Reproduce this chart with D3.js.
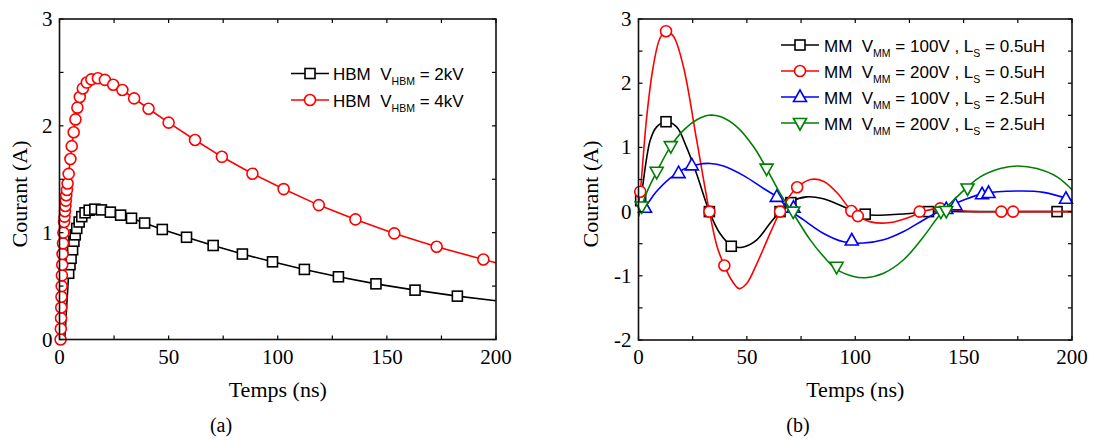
<!DOCTYPE html>
<html><head><meta charset="utf-8">
<script src="https://cdn.jsdelivr.net/npm/d3@7"></script>
<style>
html,body{margin:0;padding:0;background:#fff;}
svg{display:block;}
text{white-space:pre;}
</style></head>
<body>
<svg id="chart" width="1096" height="441"></svg>
<script>
// ---------- DATA : panel (a) ----------
const xTicksA = [0, 50, 100, 150, 200];
const yTicksA = [0, 1, 2, 3];
const xTicksB = [0, 50, 100, 150, 200];
const yTicksB = [-2, -1, 0, 1, 2, 3];

const hbm2kV_markers = [[4.2,0.62],[4.8,0.70],[5.3,0.76],[6.0,0.84],[6.6,0.92],[7.2,0.98],[7.9,1.04],[9.0,1.10],[10.2,1.15],[11.7,1.186],[13.6,1.21],[16.2,1.22],[19.2,1.213],[23.3,1.192],[28.0,1.164],[33.0,1.135],[39.0,1.09],[47.1,1.03],[58.2,0.957],[70.4,0.88],[83.8,0.80],[97.6,0.727],[112.2,0.656],[127.8,0.587],[145.0,0.521],[162.9,0.462],[182.3,0.406]];
const hbm2kV_start = [2.4, 0];
const hbm2kV_end = [200, 0.362];

const hbm4kV_markers = [[0.5,0.0],[0.6,0.1],[0.7,0.2],[0.8,0.3],[0.9,0.4],[1.0,0.5],[1.1,0.6],[1.25,0.7],[1.4,0.8],[1.6,0.9],[1.8,1.0],[2.1,1.1],[2.3,1.15],[2.5,1.2],[2.7,1.25],[2.9,1.3],[3.1,1.35],[3.4,1.4],[3.7,1.46],[4.2,1.55],[5.0,1.69],[5.6,1.81],[6.5,1.94],[7.3,2.06],[8.2,2.17],[9.3,2.27],[10.7,2.35],[12.5,2.405],[14.6,2.435],[17.6,2.445],[20.8,2.43],[24.6,2.385],[28.8,2.335],[34.2,2.257],[40.8,2.16],[50.0,2.03],[62.1,1.867],[74.4,1.71],[88.4,1.552],[102.7,1.408],[118.8,1.258],[135.6,1.124],[153.4,0.993],[172.8,0.868],[194.2,0.749]];
const hbm4kV_start = [0.4, 0];
const hbm4kV_end = [200, 0.718];

// ---------- DATA : panel (b) ----------
const mm100_05_curve = [[0,0.06],[0.8,0.15],[5.4,1.11],[8.4,1.32],[12.7,1.40],[17.6,1.32],[22.2,1.0],[26.8,0.59],[32.7,0.0],[37.6,-0.34],[43.5,-0.54],[48.4,-0.55],[54.6,-0.44],[60.7,-0.18],[65.3,0.0],[70.7,0.16],[77.6,0.23],[85.3,0.20],[93.0,0.10],[99.1,0.01],[105.3,-0.05],[116,-0.05],[125,-0.03],[133.8,0.0],[150,0.0],[175,0.0],[200,0.0]];
const mm100_05_markers = [[1.0,0.17],[12.7,1.40],[32.7,0.0],[42.8,-0.54],[65.3,0.0],[70.3,0.14],[104.6,-0.04],[133.8,0.0],[193.1,0.0]];

const mm200_05_curve = [[0,0.12],[0.8,0.31],[3.8,1.48],[6.8,2.26],[9.9,2.70],[12.7,2.81],[16.1,2.73],[20.7,2.26],[26.8,1.12],[32.7,0.0],[36.3,-0.55],[39.6,-0.84],[43.0,-1.07],[46.5,-1.20],[49.9,-1.12],[54.6,-0.81],[60.7,-0.34],[65.3,0.0],[70.1,0.26],[73.2,0.38],[79.4,0.50],[85.5,0.47],[91.7,0.29],[98.2,0.01],[101.2,-0.07],[107.1,-0.16],[116.3,-0.17],[125.5,-0.08],[130.9,0.0],[139.2,0.05],[147,0.02],[155,0.0],[175,0.0],[200,0.0]];
const mm200_05_markers = [[0.8,0.31],[12.7,2.81],[32.7,0.0],[39.6,-0.84],[65.3,0.0],[73.2,0.38],[98.2,0.01],[101.2,-0.07],[129.7,0.0],[139.2,0.05],[167.4,0.0],[172.8,0.0]];

const mm100_25_curve = [[0,0.02],[3.0,0.08],[8.0,0.30],[14.6,0.52],[20.8,0.66],[26.9,0.73],[33.1,0.75],[39.2,0.71],[48.5,0.56],[57.7,0.36],[63.8,0.23],[70.0,0.02],[76.2,-0.13],[85.4,-0.34],[94.6,-0.47],[103.8,-0.49],[113.1,-0.44],[122.3,-0.31],[131.5,-0.13],[140.8,0.04],[150,0.18],[159.2,0.28],[174.6,0.32],[186.9,0.30],[200,0.18]];
const mm100_25_markers = [[3.0,0.06],[18.5,0.60],[24.6,0.72],[63.8,0.23],[71.5,0.06],[98.4,-0.45],[142.0,0.04],[146.2,0.10],[158.5,0.27],[161.5,0.29],[197.2,0.20]];

const mm200_25_curve = [[0,-0.08],[3.8,0.30],[8.4,0.62],[14.9,1.02],[20.8,1.27],[26.9,1.43],[32.3,1.50],[37.7,1.48],[45.4,1.32],[53.1,1.01],[59.1,0.67],[65.4,0.28],[71.4,-0.03],[79.2,-0.44],[85.4,-0.70],[91.4,-0.90],[99.2,-1.01],[104.6,-1.03],[113.1,-0.96],[122.3,-0.75],[131.5,-0.39],[139.5,-0.03],[148.5,0.28],[157.7,0.54],[166.9,0.67],[174.6,0.71],[183.8,0.67],[193.1,0.54],[200,0.34]];
const mm200_25_markers = [[1.5,0.08],[8.4,0.62],[14.9,1.02],[59.1,0.67],[71.4,0.0],[91.4,-0.86],[139.5,0.0],[142.0,0.01],[151.8,0.36]];

const legendA = [
  {pre:"HBM  V", sub:"HBM", post:" = 2kV", color:"#000000", shape:"square"},
  {pre:"HBM  V", sub:"HBM", post:" = 4kV", color:"#ff0000", shape:"circle"}
];
const legendB = [
  {pre:"MM  V", sub:"MM", post:" = 100V , L", sub2:"S", post2:" = 0.5uH", color:"#000000", shape:"square"},
  {pre:"MM  V", sub:"MM", post:" = 200V , L", sub2:"S", post2:" = 0.5uH", color:"#ff0000", shape:"circle"},
  {pre:"MM  V", sub:"MM", post:" = 100V , L", sub2:"S", post2:" = 2.5uH", color:"#0000ff", shape:"triUp"},
  {pre:"MM  V", sub:"MM", post:" = 200V , L", sub2:"S", post2:" = 2.5uH", color:"#008000", shape:"triDown"}
];

// ---------- DRAW ----------
const svg = d3.select("#chart");
const serif = "'Liberation Serif','Times New Roman',serif";
const sans = "'Liberation Sans',Arial,sans-serif";

function marker(g, shape, x, y, color) {
  const sw = 1.6;
  if (shape === "square") {
    g.append("rect").attr("x", x-5).attr("y", y-5).attr("width", 10).attr("height", 10)
      .attr("fill", "#fff").attr("stroke", color).attr("stroke-width", sw);
  } else if (shape === "circle") {
    g.append("circle").attr("cx", x).attr("cy", y).attr("r", 5.5)
      .attr("fill", "#fff").attr("stroke", color).attr("stroke-width", sw);
  } else if (shape === "triUp") {
    g.append("path").attr("d", `M${x},${y-7}L${x+6.5},${y+4.5}L${x-6.5},${y+4.5}Z`)
      .attr("fill", "#fff").attr("stroke", color).attr("stroke-width", sw);
  } else {
    g.append("path").attr("d", `M${x},${y+7}L${x+6.5},${y-4.5}L${x-6.5},${y-4.5}Z`)
      .attr("fill", "#fff").attr("stroke", color).attr("stroke-width", sw);
  }
}

function frame(id, x, y, xTicks, yTicks, xMinor, yMinor) {
  const [x0, x1] = x.range(), [y0, y1] = y.range();
  const g = svg.append("g");
  const tl = 4;
  xMinor.forEach(v => {
    g.append("line").attr("x1", x(v)).attr("x2", x(v)).attr("y1", y0).attr("y2", y0 - tl).attr("stroke", "#000").attr("stroke-width", 1.2);
    g.append("line").attr("x1", x(v)).attr("x2", x(v)).attr("y1", y1).attr("y2", y1 + tl).attr("stroke", "#000").attr("stroke-width", 1.2);
  });
  yMinor.forEach(v => {
    g.append("line").attr("x1", x0).attr("x2", x0 + tl).attr("y1", y(v)).attr("y2", y(v)).attr("stroke", "#000").attr("stroke-width", 1.2);
    g.append("line").attr("x1", x1).attr("x2", x1 - tl).attr("y1", y(v)).attr("y2", y(v)).attr("stroke", "#000").attr("stroke-width", 1.2);
  });
  g.append("rect").attr("x", x0).attr("y", y1).attr("width", x1 - x0).attr("height", y0 - y1)
    .attr("fill", "none").attr("stroke", "#111").attr("stroke-width", 1.6);
  xTicks.forEach(v => {
    g.append("text").attr("x", x(v)).attr("y", y0 + 24).attr("text-anchor", "middle")
      .attr("font-family", serif).attr("font-size", 21).text(String(v));
  });
  yTicks.forEach(v => {
    g.append("text").attr("x", x0 - 7).attr("y", y(v) + 7).attr("text-anchor", "end")
      .attr("font-family", serif).attr("font-size", 21).text(String(v));
  });
  return g;
}

function axisTitles(x, yTitleX, label) {
  const [x0, x1] = x.range();
  svg.append("text").attr("x", (x0 + x1) / 2).attr("y", 397).attr("text-anchor", "middle")
    .attr("font-family", serif).attr("font-size", 22).text("Temps (ns)");
  svg.append("text").attr("transform", `translate(${yTitleX},194) rotate(-90)`).attr("text-anchor", "middle")
    .attr("font-family", serif).attr("font-size", 22).text("Courant (A)");
  svg.append("text").attr("x", label[0]).attr("y", 432).attr("text-anchor", "middle")
    .attr("font-family", serif).attr("font-size", 20).text(label[1]);
}

function legend(items, lx0, lx1, tx, y0, dy) {
  items.forEach((it, i) => {
    const cy = y0 + i * dy;
    const g = svg.append("g");
    g.append("line").attr("x1", lx0).attr("x2", lx1).attr("y1", cy).attr("y2", cy)
      .attr("stroke", it.color).attr("stroke-width", 1.6);
    marker(g, it.shape, (lx0 + lx1) / 2, cy, it.color);
    const t = g.append("text").attr("x", tx).attr("y", cy + 6.5).attr("font-family", sans).attr("font-size", 17).attr("fill", "#000");
    t.append("tspan").text(it.pre);
    t.append("tspan").attr("font-size", 10.5).attr("dy", 5).text(it.sub);
    t.append("tspan").attr("dy", -5).text(it.post);
    if (it.sub2) {
      t.append("tspan").attr("font-size", 10.5).attr("dy", 5).text(it.sub2);
      t.append("tspan").attr("dy", -5).text(it.post2);
    }
  });
}

function drawSeries(clipId, x, y, curvePts, markers, color, shape, curve) {
  const line = d3.line().x(d => x(d[0])).y(d => y(d[1])).curve(curve);
  const g = svg.append("g").attr("clip-path", `url(#${clipId})`);
  g.append("path").attr("d", line(curvePts)).attr("fill", "none").attr("stroke", color).attr("stroke-width", 1.6);
  const gm = svg.append("g");
  markers.forEach(d => marker(gm, shape, x(d[0]), y(d[1]), color));
}

function clip(id, x, y) {
  const [x0, x1] = x.range(), [y0, y1] = y.range();
  svg.append("clipPath").attr("id", id).append("rect")
    .attr("x", x0).attr("y", y1).attr("width", x1 - x0).attr("height", y0 - y1);
}

// Panel (a)
const xA = d3.scaleLinear().domain([0, 200]).range([59.5, 496]);
const yA = d3.scaleLinear().domain([0, 3]).range([339.5, 19]);
clip("clipA", xA, yA);
drawSeries("clipA", xA, yA, [hbm2kV_start, ...hbm2kV_markers, hbm2kV_end], hbm2kV_markers, "#000000", "square", d3.curveLinear);
drawSeries("clipA", xA, yA, [hbm4kV_start, ...hbm4kV_markers, hbm4kV_end], hbm4kV_markers, "#ff0000", "circle", d3.curveLinear);
frame("a", xA, yA, xTicksA, yTicksA, d3.range(0, 201, 25), d3.range(0, 3.01, 0.5));
axisTitles(xA, 27, [221, "(a)"]);
legend(legendA, 291, 329, 333, 73.5, 26.5);

// Panel (b)
const xB = d3.scaleLinear().domain([0, 200]).range([638.5, 1072]);
const yB = d3.scaleLinear().domain([-2, 3]).range([340, 19]);
clip("clipB", xB, yB);
drawSeries("clipB", xB, yB, mm100_05_curve, mm100_05_markers, "#000000", "square", d3.curveCatmullRom);
drawSeries("clipB", xB, yB, mm200_05_curve, mm200_05_markers, "#ff0000", "circle", d3.curveCatmullRom);
drawSeries("clipB", xB, yB, mm100_25_curve, mm100_25_markers, "#0000ff", "triUp", d3.curveCatmullRom);
drawSeries("clipB", xB, yB, mm200_25_curve, mm200_25_markers, "#008000", "triDown", d3.curveCatmullRom);
frame("b", xB, yB, xTicksB, yTicksB, d3.range(0, 201, 25), d3.range(-2, 3.01, 0.5));
axisTitles(xB, 598, [798, "(b)"]);
legend(legendB, 781, 819, 824, 45, 26);
</script>
</body></html>
